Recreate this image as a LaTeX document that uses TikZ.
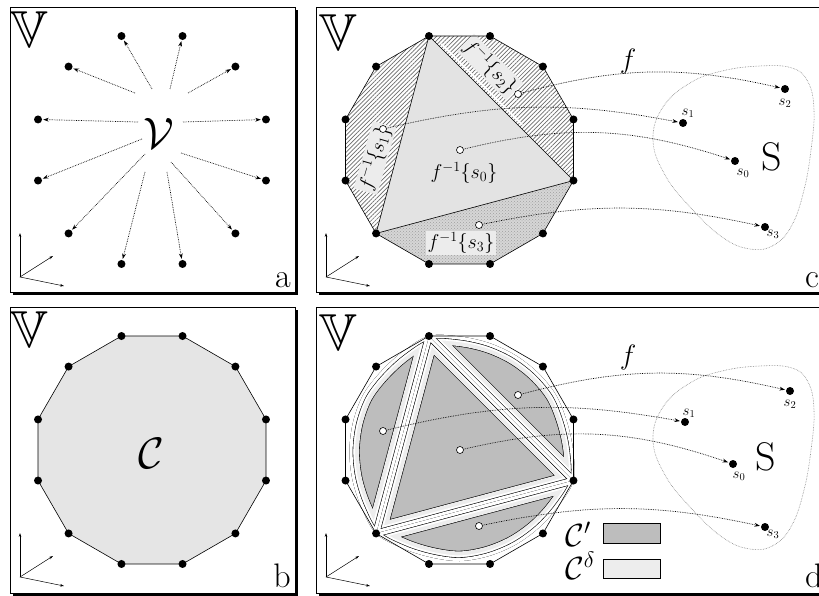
\documentclass[tikz,border=0pt]{standalone}
\usepackage{fix-cm}
\usepackage{amssymb}
\usetikzlibrary{arrows.meta,calc,patterns,patterns.meta}
\colorlet{cprime}{gray!52}
\colorlet{cdelta}{gray!14}
\newcommand\outercurve{plot[smooth cycle,tension=0.55] coordinates {(0:113.5) (15:118) (30:113.5) (45:111) (60:110) (75:110) (90:111) (105:111) (120:113.5) (135:118) (150:113.5) (165:111) (180:110) (195:110) (210:111) (225:111) (240:113.5) (255:118) (270:113.5) (285:111) (300:110) (315:110) (330:111) (345:111)}}
\newcommand\dband[2]{%
\begin{scope}
 \clip[shift={(D)}] \outercurve;
 \clip #1;
 \fill[cprime] (D) circle (130);
 \foreach \bw/\bc in {20.4/black,19.2/cdelta,11.2/white,7.4/black,6.2/white}{
   \draw[line width=\bw pt,\bc] #2;
   \draw[line width=\bw pt,\bc,shift={(D)}] \outercurve;
 }
\end{scope}}
\begin{document}
\begin{tikzpicture}[x=1pt,y=-1pt,
  dot/.style={circle,fill=black,inner sep=0pt,minimum size=8pt},
  odot/.style={circle,draw=black,fill=white,line width=0.6pt,inner sep=0pt,minimum size=7pt},
  tdot/.style={circle,fill=black,inner sep=0pt,minimum size=8pt},
  maparrow/.style={densely dotted,line width=0.7pt,-{Stealth[length=5.5pt,width=3.8pt]},shorten >=1pt},
  frame/.style={fill=white,draw=black,line width=0.8pt},
  axis/.style={line width=0.5pt,-{Stealth[length=4pt,width=2.6pt]}},
  bigV/.style={font=\fontsize{52}{52}\selectfont,inner sep=0pt},
  panellabel/.style={font=\fontsize{34}{34}\selectfont,inner sep=0pt},
  poly/.style={draw=black,line width=0.6pt},
  lab/.style={font=\fontsize{20}{20}\selectfont,fill=gray!15,inner sep=1.5pt},
  slab/.style={font=\fontsize{15}{15}\selectfont,inner sep=0pt},
  blob/.style={draw=gray,densely dotted,line width=0.6pt},
  hatch/.style={pattern={Lines[angle=45,distance=3pt,line width=0.7pt]},pattern color=gray!85!black},
]
\useasboundingbox (0,0) rectangle (819,596);
% frames with shadows
\fill (13,10) rectangle (297.5,295);
\draw[frame] (10,7) rectangle (295,292);
\fill (13,310) rectangle (297.5,596);
\draw[frame] (10,307) rectangle (295,593);
\fill (319,10) rectangle (835,295);
\draw[frame] (316,7) rectangle (830,292);
\fill (319,310) rectangle (835,596);
\draw[frame] (316,307) rectangle (830,593);
% axes
\foreach \n/\ox/\oy in {a/20/277,b/20/577,c/326/277,d/326/577}{
  \coordinate (o\n) at (\ox,\oy);
  \coordinate (o\n1) at ($(o\n)+(0,-44)$);
  \coordinate (o\n2) at ($(o\n)+(33,-21)$);
  \coordinate (o\n3) at ($(o\n)+(44,9)$);
  \draw[axis] (o\n) -- (o\n1);
  \draw[axis] (o\n) -- (o\n2);
  \draw[axis] (o\n) -- (o\n3);
}
% big V
\node[bigV] (Va) at (29.5,30) {$\mathbb{V}$};
\node[bigV] (Vb) at (29.5,330) {$\mathbb{V}$};
\node[bigV] (Vc) at (338,33) {$\mathbb{V}$};
\node[bigV] (Vd) at (338,333) {$\mathbb{V}$};
% panel letters
\node[panellabel,anchor=base east] (la) at (291,287) {a};
\node[panellabel,anchor=base east] (lb) at (291,587) {b};
\node[panellabel,anchor=base west] (lc) at (805,287) {c};
\node[panellabel,anchor=base west] (ld) at (805,587) {d};

% ---------- panel a
\coordinate (A) at (152,150);
\foreach \k in {0,...,11}{\node[dot] (a\k) at ($(A)+({-(15+30*\k)}:118)$) {};}
\foreach \k/\px/\py in {0/183/122,1/188/93,2/170/89,3/152/89,4/135/93,5/138/122,6/142/139,7/145/154,8/145/172,9/167/172,10/171/162,11/181/153}{
  \coordinate (p\k) at (\px,\py);
  \draw[maparrow] (p\k) -- (a\k);
}
\node[font=\fontsize{44}{44}\selectfont,inner sep=0pt] (calV) at (159,133) {$\mathcal{V}$};

% ---------- panel b
\coordinate (B) at (152,450);
\foreach \k in {0,...,11}{\coordinate (b\k) at ($(B)+({-(15+30*\k)}:118)$);}
\fill[gray!20] (b0) \foreach \k in {1,...,11}{ -- (b\k)} -- cycle;
\draw[poly] (b0) \foreach \k in {1,...,11}{ -- (b\k)} -- cycle;
\foreach \k in {0,...,11}{\node[dot] (bd\k) at (b\k) {};}
\node[font=\fontsize{44}{44}\selectfont,inner sep=0pt] (calC) at (151,453) {$\mathcal{C}$};

% ---------- panel c
\coordinate (C) at (459.5,150);
\foreach \k in {0,...,11}{\coordinate (c\k) at ($(C)+({-(15+30*\k)}:118)$);}
\fill[gray!22] (c3) -- (c11) -- (c7) -- cycle;
\fill[white] (c3) -- (c4) -- (c5) -- (c6) -- (c7) -- cycle;
\fill[hatch] (c3) -- (c4) -- (c5) -- (c6) -- (c7) -- cycle;
\fill[white] (c3) -- (c2) -- (c1) -- (c0) -- (c11) -- cycle;
\fill[hatch] (c3) -- (c2) -- (c1) -- (c0) -- (c11) -- cycle;
\fill[gray!32] (c7) -- (c8) -- (c9) -- (c10) -- (c11) -- cycle;
\fill[pattern=crosshatch dots,pattern color=gray!75] (c7) -- (c8) -- (c9) -- (c10) -- (c11) -- cycle;
\draw[white,line width=1.6pt] ($(c3)!0.07!(c11)+(2.3,-2.3)$) -- ($(c3)!0.63!(c11)+(2.3,-2.3)$);
\node[lab,rotate=74] (l1) at (375,158) {$f^{-1}\{s_1\}$};
\node[lab,rotate=-45] (l2) at (490,67) {$f^{-1}\{s_2\}$};
\node[lab] (l3) at (461,243) {$f^{-1}\{s_3\}$};
\node[font=\fontsize{20}{20}\selectfont,inner sep=0pt] (l0) at (464,173) {$f^{-1}\{s_0\}$};
\draw[poly] (c0) \foreach \k in {1,...,11}{ -- (c\k)} -- cycle;
\draw[poly] (c3) -- (c11) -- (c7) -- cycle;
\foreach \k in {0,...,11}{\node[dot] (cd\k) at (c\k) {};}
% S blob c
\draw[blob] plot[smooth cycle,tension=0.7] coordinates {(653,140) (663,107) (690,83) (722,71) (760,66) (792,68) (808,82) (814,110) (811,150) (804,190) (792,225) (774,245) (750,249) (722,237) (690,207) (665,175)};
\node[font=\fontsize{40}{40}\selectfont,inner sep=0pt] (Sc) at (772,157) {S};
\node[font=\fontsize{28}{28}\selectfont,inner sep=0pt] (fc) at (628,62) {$f$};
\node[odot] (cu2) at (518,94) {};
\node[odot] (cu1) at (383,129) {};
\node[odot] (cu0) at (460,150) {};
\node[odot] (cu3) at (479,225) {};
\node[tdot] (ct2) at (785,89) {};
\node[tdot] (ct1) at (683,123) {};
\node[tdot] (ct0) at (735,161) {};
\node[tdot] (ct3) at (765,227) {};
\node[slab] (cs2) at (785,103) {$s_2$};
\node[slab] (cs1) at (688,113) {$s_1$};
\node[slab] (cs0) at (743,173) {$s_0$};
\node[slab] (cs3) at (773,234) {$s_3$};
\draw[maparrow] (cu2) to[bend left=14] (ct2);
\draw[maparrow] (cu1) to[bend left=12] (ct1);
\draw[maparrow] (cu0) to[bend left=16] (ct0);
\draw[maparrow] (cu3) to[bend left=12] (ct3);

% ---------- panel d
\coordinate (D) at (459.5,450);
\foreach \k in {0,...,11}{\coordinate (d\k) at ($(D)+({-(15+30*\k)}:118)$);}
\foreach \k in {0,...,11}{\coordinate (e\k) at ($(D)+({-(15+30*\k)}:130)$);}
\dband{(d3) -- (d11) -- (d7) -- cycle}{(d3) -- (d11) -- (d7) -- cycle}
\dband{(d3) -- (e4) -- (e5) -- (e6) -- (d7) -- cycle}{($(d3)!-0.3!(d7)$) -- ($(d3)!1.3!(d7)$)}
\dband{(d3) -- (e2) -- (e1) -- (e0) -- (d11) -- cycle}{($(d3)!-0.3!(d11)$) -- ($(d3)!1.3!(d11)$)}
\dband{(d7) -- (e8) -- (e9) -- (e10) -- (d11) -- cycle}{($(d7)!-0.3!(d11)$) -- ($(d7)!1.3!(d11)$)}
\draw[poly] (d0) \foreach \k in {1,...,11}{ -- (d\k)} -- cycle;
\foreach \k in {0,...,11}{\node[dot] (dd\k) at (d\k) {};}
\begin{scope}[shift={(0,300)}]
\draw[blob] plot[smooth cycle,tension=0.7] coordinates {(653,140) (663,107) (690,83) (722,71) (760,66) (792,68) (808,82) (814,110) (811,150) (804,190) (792,225) (774,245) (750,249) (722,237) (690,207) (665,175)};
\end{scope}
\node[font=\fontsize{40}{40}\selectfont,inner sep=0pt] (Sd) at (766,457) {S};
\node[font=\fontsize{28}{28}\selectfont,inner sep=0pt] (fd) at (628,357) {$f$};
\node[odot] (du2) at (518,395) {};
\node[odot] (du1) at (383,431) {};
\node[odot] (du0) at (460,450) {};
\node[odot] (du3) at (479,526) {};
\node[tdot] (dt2) at (790,391) {};
\node[tdot] (dt1) at (685,422) {};
\node[tdot] (dt0) at (733,464) {};
\node[tdot] (dt3) at (765,527) {};
\node[slab] (ds2) at (790,404) {$s_2$};
\node[slab] (ds1) at (689,413) {$s_1$};
\node[slab] (ds0) at (739,476) {$s_0$};
\node[slab] (ds3) at (773,534) {$s_3$};
\draw[maparrow] (du2) to[bend left=14] (dt2);
\draw[maparrow] (du1) to[bend left=12] (dt1);
\draw[maparrow] (du0) to[bend left=16] (dt0);
\draw[maparrow] (du3) to[bend left=12] (dt3);
% legend
\node[font=\fontsize{32}{32}\selectfont,inner sep=0pt] (lgc1) at (578,534) {$\mathcal{C}'$};
\node[font=\fontsize{32}{32}\selectfont,inner sep=0pt] (lgc2) at (580,566) {$\mathcal{C}^{\delta}$};
\node[draw=black,line width=1pt,fill=cprime,minimum width=57pt,minimum height=20pt,inner sep=0pt] (box1) at (631.5,533) {};
\node[draw=black,line width=1pt,fill=cdelta,minimum width=57pt,minimum height=19pt,inner sep=0pt] (box2) at (631.5,568.5) {};
\end{tikzpicture}
\end{document}
